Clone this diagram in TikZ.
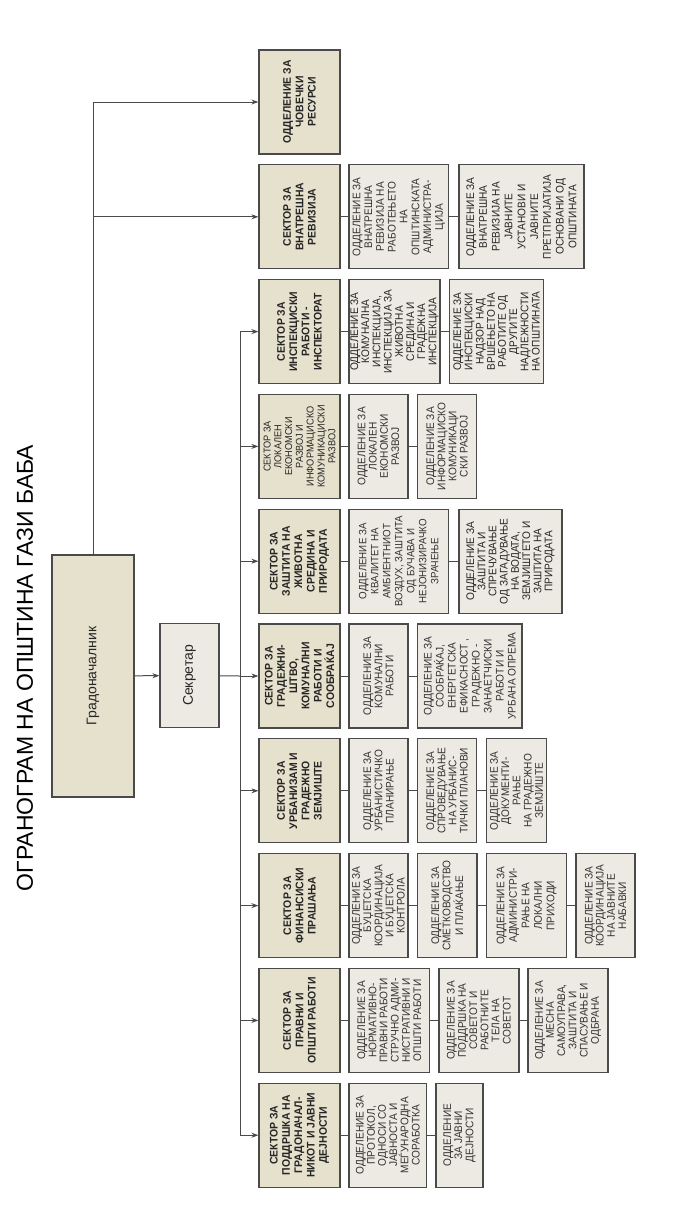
\documentclass[tikz,border=0pt]{standalone}
\usepackage{fontspec}
\setmainfont{Liberation Sans}
\newfontfamily\deptfamily[FakeStretch=0.92]{Liberation Sans}
\newfontfamily\sectfamily[FakeStretch=0.95]{Liberation Sans}
\usetikzlibrary{arrows.meta}
\definecolor{sectfill}{HTML}{E6E1CD}
\definecolor{deptfill}{HTML}{EDEAE3}
\definecolor{linec}{HTML}{4A4A4A}
\definecolor{textc}{HTML}{252525}
\definecolor{dtextc}{HTML}{333333}
\begin{document}
\begin{tikzpicture}[x=1pt,y=-1pt,
 box/.style={draw=linec, line width=1.2pt, rotate=90, minimum width=104pt, inner sep=1pt, align=center},
 sect/.style={box, fill=sectfill, text=textc, font=\sectfamily\fontsize{11}{12.3}\selectfont\bfseries},
 dept/.style={box, fill=deptfill, text=dtextc, font=\deptfamily\fontsize{11}{11.2}\selectfont},
 conn/.style={draw=linec, line width=1pt},
 arr/.style={conn, -{Stealth[length=7pt,width=5pt]}}]
\fill[white] (0,0) rectangle (675,1232);
\useasboundingbox (0,0) rectangle (675,1232);

% title
\node[rotate=90, font=\fontsize{23}{23}\selectfont, text=black] (title) at (25,668) {ОГРАНОГРАМ НА ОПШТИНА ГАЗИ БАБА};

% mayor & secretary
\node[box, fill=sectfill, minimum width=242pt, minimum height=82pt, font=\fontsize{14}{16}\selectfont, text=textc] (mayor) at (93,676) {Градоначалник};
\node[box, fill=deptfill, minimum width=104pt, minimum height=59pt, font=\fontsize{14}{16}\selectfont, text=textc] (secr) at (189.5,675.5) {Секретар};

% row 1: HR
\node[sect, minimum height=81pt] (s1) at (299.5,102) {ОДДЕЛЕНИЕ ЗА\\ЧОВЕЧКИ\\РЕСУРСИ};

% row 2: audit
\node[sect, minimum height=81pt] (s2) at (299.5,216.8) {СЕКТОР ЗА\\ВНАТРЕШНА\\РЕВИЗИЈА};
\node[dept, minimum height=99.6pt, font=\deptfamily\fontsize{11}{11.8}\selectfont] (a1) at (398.8,216.8) {ОДДЕЛЕНИЕ ЗА\\ВНАТРЕШНА\\РЕВИЗИЈА НА\\РАБОТЕЊЕТО\\НА\\ОПШТИНСКАТА\\АДМИНИСТРА-\\ЦИЈА};
\node[dept, minimum height=125pt, font=\deptfamily\fontsize{11}{12.8}\selectfont, text=textc] (a2) at (521.5,216.8) {ОДДЕЛЕНИЕ ЗА\\ВНАТРЕШНА\\РЕВИЗИЈА НА\\ЈАВНИТЕ\\УСТАНОВИ И\\ЈАВНИТЕ\\ПРЕТПРИЈАТИЈА\\ОСНОВАНИ ОД\\ОПШТИНАТА};

% row 3: inspectorate
\node[sect, minimum height=81pt] (s3) at (299.5,331.6) {СЕКТОР ЗА\\ИНСПЕКЦИСКИ\\РАБОТИ -\\ИНСПЕКТОРАТ};
\node[dept, minimum height=91pt, text=textc] (b1) at (394.5,331.6) {ОДДЕЛЕНИЕ ЗА\\КОМУНАЛНА\\ИНСПЕКЦИЈА,\\ИНСПЕКЦИЈА ЗА\\ЖИВОТНА\\СРЕДИНА И\\ГРАДЕЖНА\\ИНСПЕКЦИЈА};
\node[dept, minimum height=94pt, text=textc] (b2) at (496.6,331.6) {ОДДЕЛЕНИЕ ЗА\\ИНСПЕКЦИСКИ\\НАДЗОР НАД\\ВРШЕЊЕТО НА\\РАБОТИТЕ ОД\\ДРУГИТЕ\\НАДЛЕЖНОСТИ\\НА ОПШТИНАТА};

% row 4: local economic development
\node[sect, minimum height=81pt, font=\deptfamily\fontsize{10}{10.8}\selectfont] (s4) at (299.5,446.4) {СЕКТОР ЗА\\ЛОКАЛЕН\\ЕКОНОМСКИ\\РАЗВОЈ И\\ИНФОРМАЦИСКО\\КОМУНИКАЦИСКИ\\РАЗВОЈ};
\node[dept, minimum height=59pt] (c1) at (378.5,446.4) {ОДДЕЛЕНИЕ ЗА\\ЛОКАЛЕН\\ЕКОНОМСКИ\\РАЗВОЈ};
\node[dept, minimum height=59pt] (c2) at (447.1,446.4) {ОДДЕЛЕНИЕ ЗА\\ИНФОРМАЦИСКО\\КОМУНИКАЦИ\\СКИ РАЗВОЈ};

% row 5: environment
\node[sect, minimum height=81pt] (s5) at (299.5,561.2) {СЕКТОР ЗА\\ЗАШТИТА НА\\ЖИВОТНА\\СРЕДИНА И\\ПРИРОДАТА};
\node[dept, minimum height=99.6pt, font=\deptfamily\fontsize{10.6}{12}\selectfont] (d1) at (398.8,561.2) {ОДДЕЛЕНИЕ ЗА\\КВАЛИТЕТ НА\\АМБИЕНТНИОТ\\ВОЗДУХ, ЗАШТИТА\\ОД БУЧАВА И\\НЕЈОНИЗИРАЧКО\\ЗРАЧЕЊЕ};
\node[dept, minimum height=103pt, text=textc] (d2) at (510.5,561.2) {ОДДЕЛЕНИЕ ЗА\\ЗАШТИТА И\\СПРЕЧУВАЊЕ\\ОД ЗАГАДУВАЊЕ\\НА ВОДАТА,\\ЗЕМЈИШТЕТО И\\ЗАШТИТА НА\\ПРИРОДАТА};

% row 6: construction
\node[sect, minimum height=81pt] (s6) at (299.5,676) {СЕКТОР ЗА\\ГРАДЕЖНИ-\\ШТВО,\\КОМУНАЛНИ\\РАБОТИ И\\СООБРАЌАЈ};
\node[dept, minimum height=59pt] (e1) at (378.5,676) {ОДДЕЛЕНИЕ ЗА\\КОМУНАЛНИ\\РАБОТИ};
\node[dept, minimum height=104.4pt, font=\deptfamily\fontsize{11}{12}\selectfont] (e2) at (469.8,676) {ОДДЕЛЕНИЕ ЗА\\СООБРАЌАЈ,\\ЕНЕРГЕТСКА\\ЕФИКАСНОСТ ,\\ГРАДЕЖНО -\\ЗАНАЕТЧИСКИ\\РАБОТИ И\\УРБАНА ОПРЕМА};

% row 7: urbanism
\node[sect, minimum height=81pt] (s7) at (299.5,790.8) {СЕКТОР ЗА\\УРБАНИЗАМ И\\ГРАДЕЖНО\\ЗЕМЈИШТЕ};
\node[dept, minimum height=59pt] (f1) at (378.5,790.8) {ОДДЕЛЕНИЕ ЗА\\УРБАНИСТИЧКО\\ПЛАНИРАЊЕ};
\node[dept, minimum height=59pt] (f2) at (447.1,790.8) {ОДДЕЛЕНИЕ ЗА\\СПРОВЕДУВАЊЕ\\НА УРБАНИС-\\ТИЧКИ ПЛАНОВИ};
\node[dept, minimum height=60pt] (f3) at (516.6,790.8) {ОДДЕЛЕНИЕ ЗА\\ДОКУМЕНТИ-\\РАЊЕ\\НА ГРАДЕЖНО\\ЗЕМЈИШТЕ};

% row 8: finance
\node[sect, minimum height=81pt] (s8) at (299.5,905.6) {СЕКТОР ЗА\\ФИНАНСИСКИ\\ПРАШАЊА};
\node[dept, minimum height=59pt] (g1) at (378.5,905.6) {ОДДЕЛЕНИЕ ЗА\\БУЏЕТСКА\\КООРДИНАЦИЈА\\И БУЏЕТСКА\\КОНТРОЛА};
\node[dept, minimum height=59.4pt] (g2) at (447.3,905.6) {ОДДЕЛЕНИЕ ЗА\\СМЕТКОВОДСТВО\\И ПЛАЌАЊЕ};
\node[dept, minimum height=80pt, font=\deptfamily\fontsize{11}{12.5}\selectfont] (g3) at (526.5,905.6) {ОДДЕЛЕНИЕ ЗА\\АДМИНИСТРИ-\\РАЊЕ НА\\ЛОКАЛНИ\\ПРИХОДИ};
\node[dept, minimum height=59pt] (g4) at (605.5,905.6) {ОДДЕЛЕНИЕ ЗА\\КООРДИНАЦИЈА\\НА ЈАВНИТЕ\\НАБАВКИ};

% row 9: legal
\node[sect, minimum height=81pt] (s9) at (299.5,1020.4) {СЕКТОР ЗА\\ПРАВНИ И\\ОПШТИ РАБОТИ};
\node[dept, minimum height=80.6pt] (h1) at (389.3,1020.4) {ОДДЕЛЕНИЕ ЗА\\НОРМАТИВНО-\\ПРАВНИ РАБОТИ\\СТРУЧНО АДМИ-\\НИСТРАТИВНИ И\\ОПШТИ РАБОТИ};
\node[dept, minimum height=80pt] (h2) at (478.9,1020.4) {ОДДЕЛЕНИЕ ЗА\\ПОДДРШКА НА\\СОВЕТОТ И\\РАБОТНИТЕ\\ТЕЛА НА\\СОВЕТОТ};
\node[dept, minimum height=80pt] (h3) at (568,1020.4) {ОДДЕЛЕНИЕ ЗА\\МЕСНА\\САМОУПРАВА,\\ЗАШТИТА И\\СПАСУВАЊЕ И\\ОДБРАНА};

% row 10: support
\node[sect, minimum height=81pt] (s10) at (299.5,1135.2) {СЕКТОР ЗА\\ПОДДРШКА НА\\ГРАДОНАЧАЛ-\\НИКОТ И ЈАВНИ\\ДЕЈНОСТИ};
\node[dept, minimum height=77.6pt] (k1) at (387.8,1135.2) {ОДДЕЛЕНИЕ ЗА\\ПРОТОКОЛ,\\ОДНОСИ СО\\ЈАВНОСТА И\\МЕЃУНАРОДНА\\СОРАБОТКА};
\node[dept, minimum height=47pt] (k2) at (459.5,1135.2) {ОДДЕЛЕНИЕ\\ЗА ЈАВНИ\\ДЕЈНОСТИ};

% connectors inside rows
\draw[conn] (s2) -- (a1); \draw[conn] (a1) -- (a2);
\draw[conn] (s3) -- (b1); \draw[conn] (b1) -- (b2);
\draw[conn] (s4) -- (c1); \draw[conn] (c1) -- (c2);
\draw[conn] (s5) -- (d1); \draw[conn] (d1) -- (d2);
\draw[conn] (s6) -- (e1); \draw[conn] (e1) -- (e2);
\draw[conn] (s7) -- (f1); \draw[conn] (f1) -- (f2); \draw[conn] (f2) -- (f3);
\draw[conn] (s8) -- (g1); \draw[conn] (g1) -- (g2); \draw[conn] (g2) -- (g3); \draw[conn] (g3) -- (g4);
\draw[conn] (s9) -- (h1); \draw[conn] (h1) -- (h2); \draw[conn] (h2) -- (h3);
\draw[conn] (s10) -- (k1); \draw[conn] (k1) -- (k2);

% mayor connectors
\coordinate (m2) at (93,216.8);
\draw[arr] (mayor) |- (s1);
\draw[arr] (m2) -- (s2);
\draw[arr] (mayor) -- (secr);

% secretary bus
\coordinate (bt) at (240,331.6);
\coordinate (bb) at (240,1135.2);
\coordinate (bm) at (240,676);
\draw[conn] (secr) -- (bm);
\draw[conn] (bt) -- (bb);
\foreach \i/\y in {3/331.6,4/446.4,5/561.2,6/676,7/790.8,8/905.6,9/1020.4,10/1135.2}{
  \coordinate (bus\i) at (240,\y);
  \draw[arr] (bus\i) -- (s\i);
}
\end{tikzpicture}
\end{document}
